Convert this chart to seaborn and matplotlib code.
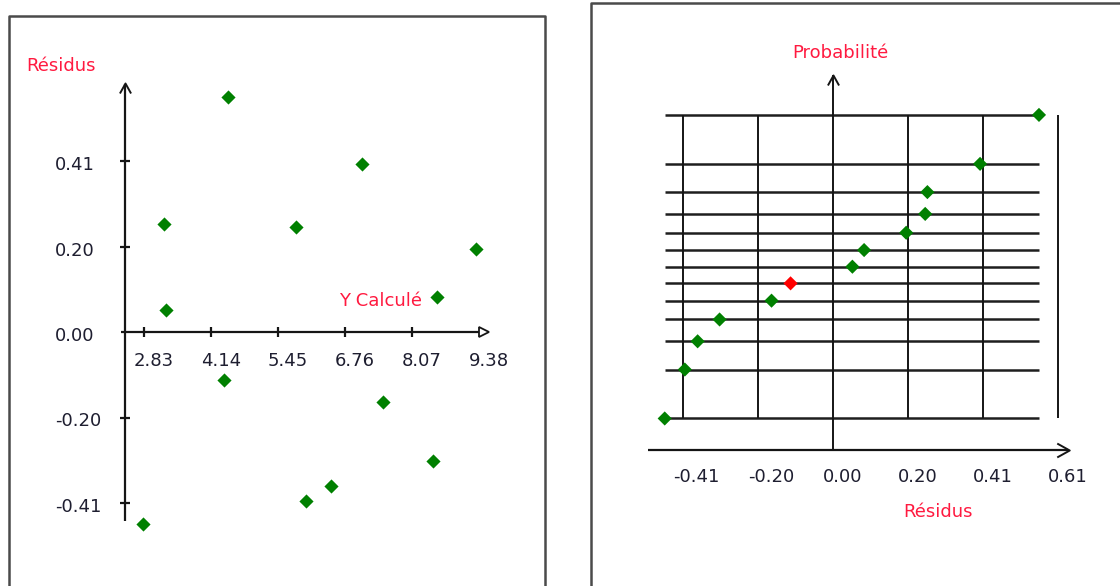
import matplotlib
matplotlib.use("Agg")
import matplotlib.pyplot as plt
import matplotlib.transforms as mtransforms
from matplotlib.lines import Line2D
from matplotlib.path import Path
from statistics import NormalDist
import pandas as pd
import seaborn as sns

# ---- data -------------------------------------------------------------
y_calcule = [4.48, 3.23, 3.26, 5.81, 7.10, 9.33, 8.56, 4.40, 7.50, 8.49, 6.48, 5.99, 2.81]
residus = [0.563, 0.258, 0.053, 0.252, 0.402, 0.200, 0.085, -0.116, -0.168, -0.310, -0.370, -0.405, -0.460]
selection = [False, False, False, False, False, False, False, True, False, False, False, False, False]

ycalc_ticks = [2.83, 4.14, 5.45, 6.76, 8.07, 9.38]
ycalc_labels = ["2.83", "4.14", "5.45", "6.76", "8.07", "9.38"]
res_ticks = [0.41, 0.205, 0.0, -0.205, -0.41]
res_labels = ["0.41", "0.20", "0.00", "-0.20", "-0.41"]
prob_ticks = [-0.41, -0.205, 0.0, 0.205, 0.41, 0.615]
prob_labels = ["-0.41", "-0.20", "0.00", "0.20", "0.41", "0.61"]

# ---- styling ----------------------------------------------------------
sns.set_style("white")
plt.rcParams["font.family"] = ["DejaVu Sans"]
FONT = 13
TITLE_C = "#ff1a40"
TEXT_C = "#1e1e30"
GREEN = "#008000"
RED = "#ff0000"
AXIS_C = "#151515"
MARK_S = 52

W, H = 1120, 586
fig = plt.figure(figsize=(W / 100, H / 100), dpi=100)
fig.patch.set_facecolor("white")


def add_px_axes(x0, y0, x1, y1, xmap, ymap):
    """Axes over a pixel box; xmap/ymap give (pixel, value) pairs for two references."""
    ax = fig.add_axes([x0 / W, 1 - y1 / H, (x1 - x0) / W, (y1 - y0) / H])
    (pa, va), (pb, vb) = xmap
    kx = (vb - va) / (pb - pa)
    ax.set_xlim(va + (x0 - pa) * kx, va + (x1 - pa) * kx)
    (qa, wa), (qb, wb) = ymap
    ky = (wb - wa) / (qb - qa)
    ax.set_ylim(wa + (y1 - qa) * ky, wa + (y0 - qa) * ky)
    ax.set_axis_off()
    return ax


def px_to_x(ax, px):
    return ax.transData.inverted().transform((px, 0))[0]


def px_to_y(ax, py):
    return ax.transData.inverted().transform((0, H - py))[1]


def off(ax, dx, dy):
    return mtransforms.offset_copy(ax.transData, fig=fig, x=dx, y=dy, units="dots")


chev_up = Path([(-0.5, -0.45), (0, 0.45), (0.5, -0.45)], [Path.MOVETO, Path.LINETO, Path.LINETO])
chev_right = Path([(-0.45, 0.5), (0.45, 0), (-0.45, -0.5)], [Path.MOVETO, Path.LINETO, Path.LINETO])

# ---- panel frames -----------------------------------------------------
for xs, ys in [([8.5, 8.5, 545, 545], [600, 15.5, 15.5, 600]),
               ([590.5, 590.5, 1130], [600, 3, 3])]:
    fig.add_artist(Line2D([x / W for x in xs], [1 - y / H for y in ys],
                          transform=fig.transFigure, color="#4a4a4a", lw=1.8))

# ---- left panel: residuals vs fitted ---------------------------------
axl = add_px_axes(20, 20, 540, 580, [(144, 2.83), (479, 9.38)], [(332, 0.0), (161, 0.41)])
x_orig = px_to_x(axl, 125)
x_end = px_to_x(axl, 484)
y_top = px_to_y(axl, 84)
y_bot = px_to_y(axl, 521)

axl.plot([px_to_x(axl, 121), x_end], [0, 0], color=AXIS_C, lw=1.6, solid_capstyle="butt")
axl.plot([x_orig, x_orig], [y_bot, y_top], color=AXIS_C, lw=1.6, solid_capstyle="butt")
axl.plot([x_end], [0], marker=">", ms=7.5, mfc="white", mec=AXIS_C, mew=1.3)
axl.plot([x_orig], [px_to_y(axl, 88)], marker=chev_up, ms=8, mfc="none", mec=AXIS_C, mew=1.4)
axl.plot(ycalc_ticks[:-1], [0] * (len(ycalc_ticks) - 1), ls="none", marker="|", ms=7, mew=1.6, color=AXIS_C)
nz = [t for t in res_ticks if t != 0]
axl.plot([x_orig] * len(nz), nz, ls="none", marker="_", ms=7, mew=1.6, color=AXIS_C)

for t, lab in zip(ycalc_ticks, ycalc_labels):
    axl.text(t, 0, lab, transform=off(axl, -10, -28.5), ha="left", va="center",
             fontsize=FONT, color=TEXT_C)
x_lab = px_to_x(axl, 55)
for t, lab in zip(res_ticks, res_labels):
    axl.text(x_lab, t, lab, transform=off(axl, 0, -4), ha="left", va="center",
             fontsize=FONT, color=TEXT_C)

sns.scatterplot(x=y_calcule, y=residus, ax=axl, marker="D", s=MARK_S, color=GREEN,
                linewidth=0, zorder=5)

axl.text(px_to_x(axl, 61), px_to_y(axl, 66), "Résidus", ha="center", va="center",
         fontsize=FONT, color=TITLE_C)
axl.text(px_to_x(axl, 381), px_to_y(axl, 301), "Y Calculé", ha="center", va="center",
         fontsize=FONT, color=TITLE_C)
axl.set_axis_off()

# ---- right panel: normal probability plot ----------------------------
n = len(residus)
prob = pd.DataFrame({"residu": residus, "sel": selection}).sort_values("residu").reset_index(drop=True)
prob["z"] = [NormalDist().inv_cdf((i + 0.5) / n) for i in range(n)]

axr = add_px_axes(600, 20, 1110, 580, [(833, 0.0), (983, 0.41)], [(266.7, 0.0), (114.9, 1.769)])
zmin, zmax = prob["z"].min(), prob["z"].max()
rmin, rmax = prob["residu"].min(), prob["residu"].max()

axr.hlines(prob["z"], rmin, rmax, color="#1e1e1e", lw=1.8, zorder=1)
axr.vlines([t for t in prob_ticks if t != 0], zmin, zmax, color=AXIS_C, lw=1.4, zorder=1)

z_axis = px_to_y(axr, 449.5)
z_top = px_to_y(axr, 75)
x0r = px_to_x(axr, 648)
x1r = px_to_x(axr, 1068)
axr.plot([0, 0], [z_axis, z_top], color=AXIS_C, lw=1.4, solid_capstyle="butt", zorder=2)
axr.plot([x0r, x1r], [z_axis, z_axis], color=AXIS_C, lw=1.6, solid_capstyle="butt", zorder=2)
axr.plot([0], [px_to_y(axr, 80)], marker=chev_up, ms=8, mfc="none", mec=AXIS_C, mew=1.4)
axr.plot([px_to_x(axr, 1063)], [z_axis], marker=chev_right, ms=10, mfc="none", mec=AXIS_C, mew=1.4)

for t, lab in zip(prob_ticks, prob_labels):
    axr.text(t, z_axis, lab, transform=off(axr, -10, -28), ha="left", va="center",
             fontsize=FONT, color=TEXT_C)

sns.scatterplot(data=prob, x="residu", y="z", hue="sel", palette={False: GREEN, True: RED},
                ax=axr, marker="D", s=MARK_S, linewidth=0, legend=False, zorder=5)

axr.text(px_to_x(axr, 840), px_to_y(axr, 53), "Probabilité", ha="center", va="center",
         fontsize=FONT, color=TITLE_C)
axr.text(px_to_x(axr, 938), px_to_y(axr, 512), "Résidus", ha="center", va="center",
         fontsize=FONT, color=TITLE_C)
axr.set_axis_off()

fig.savefig("out.png", dpi=100)
